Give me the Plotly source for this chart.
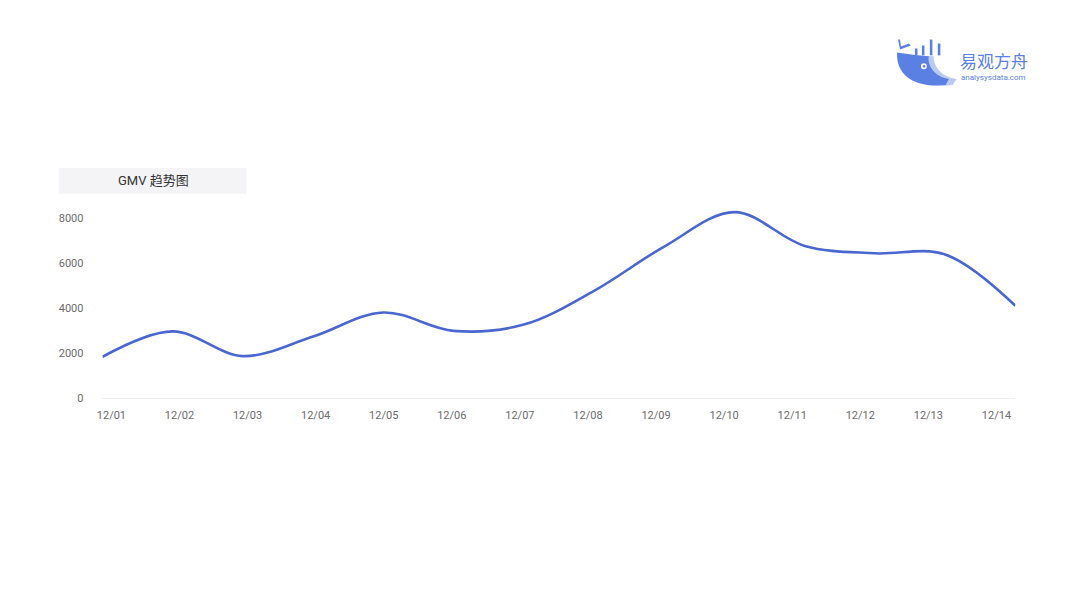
import plotly.graph_objects as go

W, H = 1080, 608

dates = ["12/01", "12/02", "12/03", "12/04", "12/05", "12/06", "12/07",
         "12/08", "12/09", "12/10", "12/11", "12/12", "12/13", "12/14"]
gmv = [1850, 2980, 1880, 2750, 3820, 3000, 3280,
       4780, 6750, 8280, 6780, 6450, 6400, 4120]
y_ticks = [0, 2000, 4000, 6000, 8000]

chart_title = "GMV 趋势图"
logo_cn = "易观方舟"
logo_en = "analysysdata.com"

LINE_COLOR = "#4a66cf"
LOGO_BLUE = "#5b80e3"


def px(x):
    return x / W


def py(y):
    return 1 - y / H


def path(cmds):
    out = []
    for c in cmds:
        if isinstance(c, str):
            out.append(c)
        else:
            out.append(f"{px(c[0]):.5f},{py(c[1]):.5f}")
    return " ".join(out)


x0, x1 = 97, 1015
y_zero, y_8000 = 403, 221
Y_MAX = 9000
y_top = y_zero - (y_zero - y_8000) * Y_MAX / 8000

fig = go.Figure()
fig.add_trace(go.Scatter(
    x=dates, y=gmv, mode="lines",
    line=dict(color=LINE_COLOR, width=2.6, shape="spline", smoothing=1.0),
    hoverinfo="x+y", showlegend=False,
))
# invisible trace carrying the label axis
fig.add_trace(go.Scatter(
    x=dates, y=gmv, mode="lines", xaxis="x2",
    line=dict(color="rgba(0,0,0,0)", width=0),
    hoverinfo="skip", showlegend=False,
))

fig.update_layout(
    width=W, height=H, autosize=False,
    margin=dict(l=0, r=0, t=0, b=0),
    paper_bgcolor="white", plot_bgcolor="white",
    font=dict(family="Roboto, 'Noto Sans CJK SC', sans-serif", color="#666"),
    xaxis=dict(
        domain=[px(x0), px(x1)], range=[0, 13], type="category",
        showticklabels=False, showgrid=False, zeroline=False,
        showline=True, linecolor="#eeeeee", linewidth=1, ticks="",
        anchor="y",
    ),
    xaxis2=dict(
        domain=[px(x0), px(x1)], range=[-0.1315, 13.278], type="category",
        overlaying="x", side="bottom", anchor="y",
        showgrid=False, zeroline=False, showline=False, ticks="",
        tickfont=dict(size=11, color="#6b6b6b", family="Roboto"),
        ticklabelstandoff=9,
    ),
    yaxis=dict(
        domain=[py(y_zero), py(y_top)], range=[0, Y_MAX],
        tickmode="array", tickvals=y_ticks,
        showgrid=False, zeroline=False, showline=False, ticks="",
        tickfont=dict(size=11, color="#6b6b6b", family="Roboto"),
        ticklabelstandoff=18,
    ),
)

# title box
fig.add_shape(type="rect", xref="paper", yref="paper",
              x0=px(53), x1=px(242), y0=py(196), y1=py(170),
              fillcolor="#f4f4f6", line=dict(width=0), layer="below")
fig.add_annotation(xref="paper", yref="paper", x=px(148), y=py(183),
                   text=chart_title, showarrow=False,
                   font=dict(size=13, color="#333",
                             family="Roboto, 'Noto Sans CJK SC'"),
                   xanchor="center", yanchor="middle")

# logo: whale body (lighter back layer + main body)
fig.add_shape(type="path", xref="paper", yref="paper",
              path=path(["M", (905, 56), "C", (905, 78), (925, 90), (952, 86),
                         "L", (956, 80), "C", (940, 78), (932, 66), (933, 57), "Z"]),
              fillcolor="#a9bdf2", line=dict(width=0), opacity=0.8)
fig.add_shape(type="path", xref="paper", yref="paper",
              path=path(["M", (896, 53), "C", (895, 76), (913, 89), (945, 86),
                         "L", (948, 80), "C", (934, 78), (926, 66), (928, 57),
                         "L", (916, 56), "Z"]),
              fillcolor=LOGO_BLUE, line=dict(width=0))
# tail
fig.add_shape(type="path", xref="paper", yref="paper",
              path=path(["M", (897, 40), "L", (899, 50), "L", (910, 46),
                         "L", (908, 44), "L", (900, 47), "L", (899, 40), "Z"]),
              fillcolor=LOGO_BLUE, line=dict(width=0))
# bars
for bx, top in [(914, 49), (921, 46), (929, 40), (937, 44)]:
    fig.add_shape(type="rect", xref="paper", yref="paper",
                  x0=px(bx), x1=px(bx + 2.6), y0=py(56), y1=py(top),
                  fillcolor=LOGO_BLUE, line=dict(width=0))
# eye
fig.add_shape(type="circle", xref="paper", yref="paper",
              x0=px(920), x1=px(926), y0=py(70), y1=py(64),
              fillcolor="white", line=dict(width=0))
fig.add_shape(type="circle", xref="paper", yref="paper",
              x0=px(922), x1=px(924.5), y0=py(68.3), y1=py(65.8),
              fillcolor=LOGO_BLUE, line=dict(width=0))

fig.add_annotation(xref="paper", yref="paper", x=px(957), y=py(61),
                   text=logo_cn, showarrow=False, xanchor="left", yanchor="middle",
                   font=dict(size=17, color=LOGO_BLUE, family="Noto Sans CJK SC"))
fig.add_annotation(xref="paper", yref="paper", x=px(958), y=py(78.5),
                   text=logo_en, showarrow=False, xanchor="left", yanchor="middle",
                   font=dict(size=8, color=LOGO_BLUE, family="Roboto"))

fig.write_html(
    "out.html",
    config={"displayModeBar": False},
    post_script="document.body.style.margin='0';document.body.style.overflow='hidden';",
)
